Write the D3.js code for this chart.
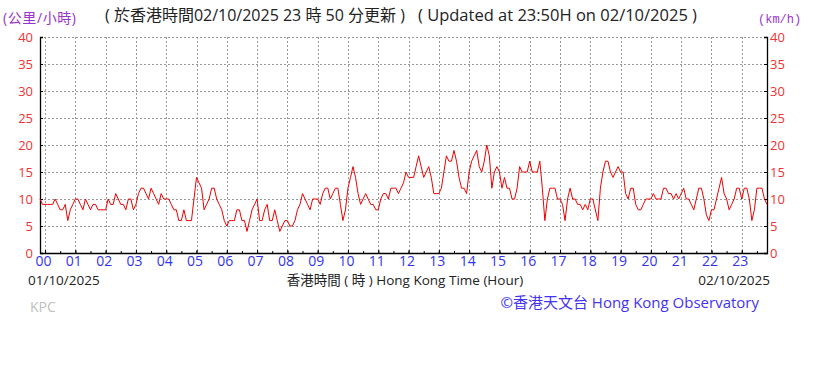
<!DOCTYPE html>
<html lang="zh-HK">
<head>
<meta charset="UTF-8">
<title>KPC wind speed</title>
<script src="https://d3js.org/d3.v7.min.js"></script>
<style>
  body { margin: 0; background: #fff; }
  svg { display: block; font-family: "Open Sans", "Noto Sans CJK TC", sans-serif; }
  .grid line { stroke: #999; stroke-dasharray: 2,2; }
</style>
</head>
<body>
<script>
// 5-minute wind speed (km/h), starting 23:50 on 01/10/2025 (minute -10)
const startMinute = -10;
const stepMinutes = 5;
const windSpeed = [
  10, 9,                                   // 23:50, 23:55
  9, 9, 9, 9, 10, 9, 8, 8, 9, 6, 8, 9,     // 00
  10, 10, 9, 8, 10, 9, 8, 9, 9, 8, 8, 8,   // 01
  8, 10, 9, 9, 11, 10, 9, 9, 8, 10, 10, 8, // 02
  9, 11, 12, 12, 11, 10, 12, 11, 10, 9, 11, 10, // 03
  10, 10, 9, 8, 8, 6, 6, 8, 6, 6, 6, 10,   // 04
  14, 13, 12, 8, 9, 10, 12, 12, 10, 9, 8, 6, // 05
  5, 6, 6, 6, 8, 8, 6, 6, 4, 6, 8, 9,      // 06
  10, 6, 6, 8, 9, 6, 6, 8, 6, 4, 5, 6,     // 07
  6, 5, 5, 6, 8, 9, 11, 10, 9, 8, 10, 10,  // 08
  10, 9, 11, 12, 12, 10, 11, 12, 12, 9, 6, 8, // 09
  12, 14, 16, 14, 11, 9, 10, 11, 10, 9, 9, 8, // 10
  8, 10, 11, 11, 10, 12, 12, 12, 11, 12, 13, 15, // 11
  14, 14, 14, 16, 18, 16, 14, 15, 16, 14, 11, 11, // 12
  11, 12, 15, 18, 17, 17, 19, 17, 14, 12, 12, 11, // 13
  15, 17, 18, 19, 16, 15, 17, 20, 18, 12, 15, 16, // 14
  15, 12, 14, 12, 12, 10, 10, 12, 16, 15, 15, 15, // 15
  17, 15, 15, 15, 17, 12, 6, 10, 12, 12, 12, 10,  // 16
  10, 9, 6, 10, 12, 10, 10, 9, 9, 8, 9, 8,        // 17
  10, 10, 8, 6, 12, 15, 17, 17, 15, 14, 15, 16,   // 18
  15, 15, 11, 10, 12, 12, 9, 8, 8, 9, 10, 10,     // 19
  10, 11, 10, 10, 10, 12, 12, 11, 11, 10, 11, 10, // 20
  11, 12, 10, 10, 9, 8, 10, 12, 12, 10, 7, 6,     // 21
  8, 8, 10, 12, 14, 11, 10, 8, 9, 10, 12, 12,     // 22
  10, 12, 12, 10, 6, 8, 12, 12, 12, 10, 9         // 23 (to 23:50)
];
const hourLabels = ["00","01","02","03","04","05","06","07","08","09","10","11",
                    "12","13","14","15","16","17","18","19","20","21","22","23"];
const yTickValues = [0, 5, 10, 15, 20, 25, 30, 35, 40];

const titleZh = "( 於香港時間02/10/2025 23 時 50 分更新 )";
const titleEn = "( Updated at 23:50H on 02/10/2025 )";
const unitLeft = "(公里/小時)";
const unitRight = "(km/h)";
const startDate = "01/10/2025";
const endDate = "02/10/2025";
const xTitle = "香港時間 ( 時 ) Hong Kong Time (Hour)";
const credit = "©香港天文台 Hong Kong Observatory";
const stationCode = "KPC";

const width = 831, height = 365;
const svg = d3.select("body").append("svg")
    .attr("width", width).attr("height", height);

const x = d3.scaleLinear().domain([-10, 1430]).range([40, 767]);
const y = d3.scaleLinear().domain([0, 40]).range([253, 37]);

// grid
const grid = svg.append("g").attr("class", "grid");
grid.selectAll(".h").data(yTickValues.filter(d => d > 0)).enter().append("line")
    .attr("x1", x(-10)).attr("x2", x(1430))
    .attr("y1", d => y(d) + 0.5).attr("y2", d => y(d) + 0.5);
grid.selectAll(".v").data(hourLabels).enter().append("line")
    .attr("x1", (d, i) => Math.round(x(i * 60)) + 0.5)
    .attr("x2", (d, i) => Math.round(x(i * 60)) + 0.5)
    .attr("y1", y(40)).attr("y2", y(0));

// axes
function styleAxis(g, color, size) {
  g.select(".domain").attr("stroke", "#000").attr("stroke-width", 1.3);
  g.selectAll(".tick line").attr("stroke", "#000");
  g.selectAll("text").attr("fill", color).style("font-size", size + "px")
      .style("font-family", "'Open Sans', sans-serif");
}

svg.append("g").attr("transform", "translate(40,0)")
    .call(d3.axisLeft(y).tickValues(yTickValues).tickSizeInner(-3).tickSizeOuter(-3).tickPadding(7))
    .call(g => styleAxis(g, "#ee3333", 13));

svg.append("g").attr("transform", "translate(767,0)")
    .call(d3.axisRight(y).tickValues(yTickValues).tickSizeInner(-3).tickSizeOuter(-3).tickPadding(3))
    .call(g => styleAxis(g, "#ee3333", 13));

svg.append("g").attr("transform", "translate(0,253)")
    .call(d3.axisBottom(x).tickValues(d3.range(0, 1440, 30)).tickSizeInner(-2).tickSizeOuter(0).tickFormat(""))
    .call(g => styleAxis(g, "#000", 13));

svg.append("g").attr("transform", "translate(0,253)")
    .call(d3.axisBottom(x).tickValues(hourLabels.map((d, i) => i * 60)).tickSizeInner(-3).tickSizeOuter(0)
        .tickPadding(3).tickFormat((d, i) => hourLabels[i]))
    .call(g => styleAxis(g, "#3333ee", 14))
    .call(g => g.select(".domain").remove())
    .call(g => g.selectAll("text").attr("dx", -2));

// data line
const line = d3.line()
    .x((d, i) => x(startMinute + i * stepMinutes))
    .y(d => y(d));
svg.append("path").datum(windSpeed)
    .attr("fill", "none").attr("stroke", "#ee0000").attr("stroke-width", 1)
    .attr("d", line);

// texts
svg.append("text").attr("x", 3).attr("y", 23).attr("fill", "#9933cc")
    .style("font-size", "14px").style("letter-spacing", "0.6px").text(unitLeft);
svg.append("text").attr("x", 758).attr("y", 23).attr("fill", "#9933cc")
    .style("font-family", "'Liberation Mono', monospace").style("font-size", "12px").text(unitRight);
svg.append("text").attr("x", 105).attr("y", 21).attr("fill", "#222")
    .style("font-size", "16px").text(titleZh);
svg.append("text").attr("x", 418).attr("y", 21).attr("fill", "#222")
    .style("font-size", "16.5px").text(titleEn);

svg.append("text").attr("x", 28).attr("y", 285).attr("fill", "#222")
    .style("font-size", "13.5px").text(startDate);
svg.append("text").attr("x", 770).attr("y", 285).attr("text-anchor", "end").attr("fill", "#222")
    .style("font-size", "13.5px").text(endDate);
svg.append("text").attr("x", 405).attr("y", 285).attr("text-anchor", "middle").attr("fill", "#222")
    .style("font-size", "13.5px").text(xTitle);
svg.append("text").attr("x", 759).attr("y", 308).attr("text-anchor", "end").attr("fill", "#4433ee")
    .style("font-size", "15px").text(credit);
svg.append("text").attr("x", 30).attr("y", 312).attr("fill", "#c0c0c0")
    .style("font-size", "14px").text(stationCode);
</script>
</body>
</html>
